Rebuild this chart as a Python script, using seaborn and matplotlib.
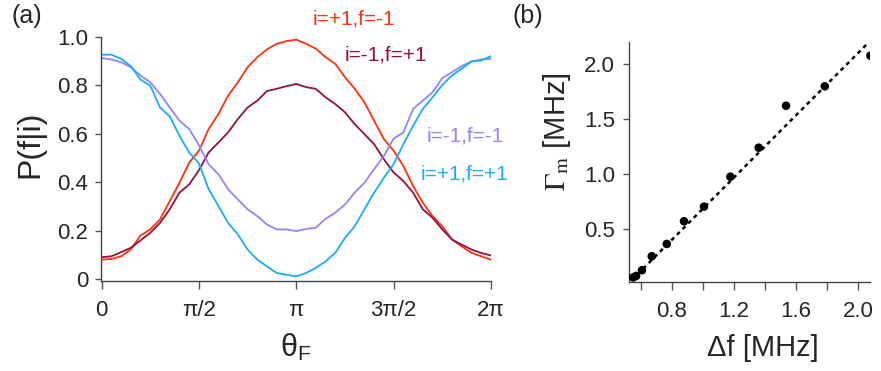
import numpy as np
import pandas as pd
import matplotlib
matplotlib.use("Agg")
import matplotlib.pyplot as plt
import seaborn as sns

# ---------------- data ----------------
theta_over_pi = [k / 20 for k in range(41)]  # sampling grid, units of pi

p_p1_m1 = [0.080, 0.083, 0.094, 0.122, 0.180, 0.205, 0.246, 0.322, 0.398, 0.481, 0.530,
           0.620, 0.682, 0.758, 0.813, 0.875, 0.917, 0.949, 0.972, 0.983, 0.989,
           0.972, 0.952, 0.917, 0.889, 0.834, 0.786, 0.730, 0.654, 0.578, 0.530,
           0.467, 0.384, 0.315, 0.260, 0.218, 0.163, 0.135, 0.108, 0.094, 0.080]
p_m1_p1 = [0.090, 0.094, 0.111, 0.129, 0.160, 0.191, 0.232, 0.288, 0.357, 0.391, 0.450,
           0.523, 0.564, 0.606, 0.661, 0.709, 0.737, 0.777, 0.786, 0.797, 0.806,
           0.793, 0.786, 0.751, 0.723, 0.689, 0.640, 0.599, 0.557, 0.495, 0.440,
           0.405, 0.357, 0.288, 0.253, 0.205, 0.163, 0.142, 0.122, 0.108, 0.097]
p_m1_m1 = [0.913, 0.907, 0.896, 0.875, 0.841, 0.813, 0.765, 0.709, 0.654, 0.620, 0.553,
           0.474, 0.433, 0.371, 0.329, 0.288, 0.260, 0.225, 0.205, 0.205, 0.198,
           0.207, 0.212, 0.249, 0.274, 0.308, 0.357, 0.398, 0.454, 0.509, 0.580,
           0.606, 0.703, 0.737, 0.772, 0.830, 0.855, 0.880, 0.899, 0.907, 0.910]
p_p1_p1 = [0.927, 0.927, 0.910, 0.880, 0.824, 0.799, 0.709, 0.672, 0.592, 0.523, 0.478,
           0.371, 0.302, 0.232, 0.184, 0.122, 0.080, 0.052, 0.025, 0.018, 0.011,
           0.025, 0.046, 0.073, 0.108, 0.170, 0.218, 0.288, 0.357, 0.419, 0.475,
           0.557, 0.633, 0.703, 0.751, 0.802, 0.841, 0.869, 0.899, 0.903, 0.921]

series_names = ["i=+1,f=-1", "i=-1,f=+1", "i=-1,f=-1", "i=+1,f=+1"]
series_colors = ["#ff3010", "#96103e", "#8f86f7", "#1aacf8"]

theta_ticklabels = ["0", "π/2", "π", "3π/2", "2π"]

delta_f = [0.55, 0.568, 0.606, 0.669, 0.766, 0.877, 1.006, 1.176, 1.359, 1.535, 1.785, 2.079]
gamma_m = [0.06, 0.073, 0.125, 0.252, 0.364, 0.57, 0.703, 0.975, 1.239, 1.62, 1.797, 2.075]
fit_slope = 1.414
fit_intercept = -0.728
fit_range = [0.54, 2.07]

# ---------------- style ----------------
sns.set_style("ticks")
plt.rcParams["font.family"] = ["Liberation Sans", "DejaVu Sans"]
plt.rcParams["mathtext.fontset"] = "stix"

fig = plt.figure(figsize=(8.81, 3.71), dpi=100)
ax1 = fig.add_axes([0.1146, 0.2426, 0.4427, 0.6577])
ax2 = fig.add_axes([0.714, 0.2399, 0.2736, 0.647])

# ---------------- panel (a) ----------------
theta = np.array(theta_over_pi) * np.pi
df = pd.concat([
    pd.DataFrame({"theta": theta, "P": vals, "series": name})
    for name, vals in zip(series_names, [p_p1_m1, p_m1_p1, p_m1_m1, p_p1_p1])
])
sns.lineplot(data=df, x="theta", y="P", hue="series", hue_order=series_names,
             palette=series_colors, linewidth=1.3, legend=False, ax=ax1)

ax1.set_xlim(-0.01, 2 * np.pi)
ax1.set_ylim(-0.008, 1.0)
ax1.set_xticks(np.array([0, 0.5, 1, 1.5, 2]) * np.pi, theta_ticklabels)
ax1.set_yticks([0, 0.2, 0.4, 0.6, 0.8, 1.0], ["0", "0.2", "0.4", "0.6", "0.8", "1.0"])
ax1.tick_params(axis="y", labelsize=16, length=4, width=1, color="#555555", pad=5)
ax1.tick_params(axis="x", labelsize=16, length=6, width=1, color="#555555", pad=8)
ax1.set_xlabel("θ$_{\\mathregular{F}}$", fontsize=22)
ax1.set_ylabel("P(f|i)", fontsize=23)
ax1.xaxis.label.set_va("center")
ax1.yaxis.label.set_va("center")
ax1.xaxis.set_label_coords(0.5, -0.275)
ax1.yaxis.set_label_coords(-0.182, 0.56)

label_pos = [(4.074, 1.076), (4.59, 0.927), (5.86, 0.59), (5.86, 0.433)]
for name, col, (tx, ty) in zip(series_names, series_colors, label_pos):
    ax1.text(tx, ty, name, color=col, fontsize=15, ha="center", va="center", clip_on=False)

# ---------------- panel (b) ----------------
sns.scatterplot(x=delta_f, y=gamma_m, color="black", s=38, edgecolor="none", ax=ax2, zorder=3)
fit_x = np.array(fit_range)
sns.lineplot(x=fit_x, y=fit_slope * fit_x + fit_intercept, color="black",
             linewidth=1.8, linestyle=(0, (1.6, 1.6)), ax=ax2)

ax2.set_xlim(0.5226, 2.077)
ax2.set_ylim(0.018, 2.2)
xt = [0.6, 0.8, 1.0, 1.2, 1.4, 1.6, 1.8, 2.0]
ax2.set_xticks(xt, ["", "0.8", "", "1.2", "", "1.6", "", "2.0"])
ax2.set_yticks([0.5, 1.0, 1.5, 2.0], ["0.5", "1.0", "1.5", "2.0"])
ax2.tick_params(axis="y", labelsize=16, length=4, width=1, color="#555555", pad=6)
ax2.tick_params(axis="x", labelsize=16, length=6, width=1, color="#555555", pad=8)
ax2.set_xlabel("Δf [MHz]", fontsize=21)
ax2.set_ylabel("$\\Gamma_{\\mathrm{m}}$ [MHz]", fontsize=21)
ax2.xaxis.label.set_va("center")
ax2.yaxis.label.set_va("center")
ax2.xaxis.set_label_coords(0.554, -0.275)
ax2.yaxis.set_label_coords(-0.30, 0.627)

for ax in (ax1, ax2):
    sns.despine(ax=ax)
    for sp in ("left", "bottom"):
        ax.spines[sp].set_color("#444444")
        ax.spines[sp].set_linewidth(1.0)

fig.text(0.0136, 0.958, "(a)", fontsize=18, ha="left", va="center")
fig.text(0.582, 0.958, "(b)", fontsize=18, ha="left", va="center")

fig.savefig("out.png", dpi=100)
